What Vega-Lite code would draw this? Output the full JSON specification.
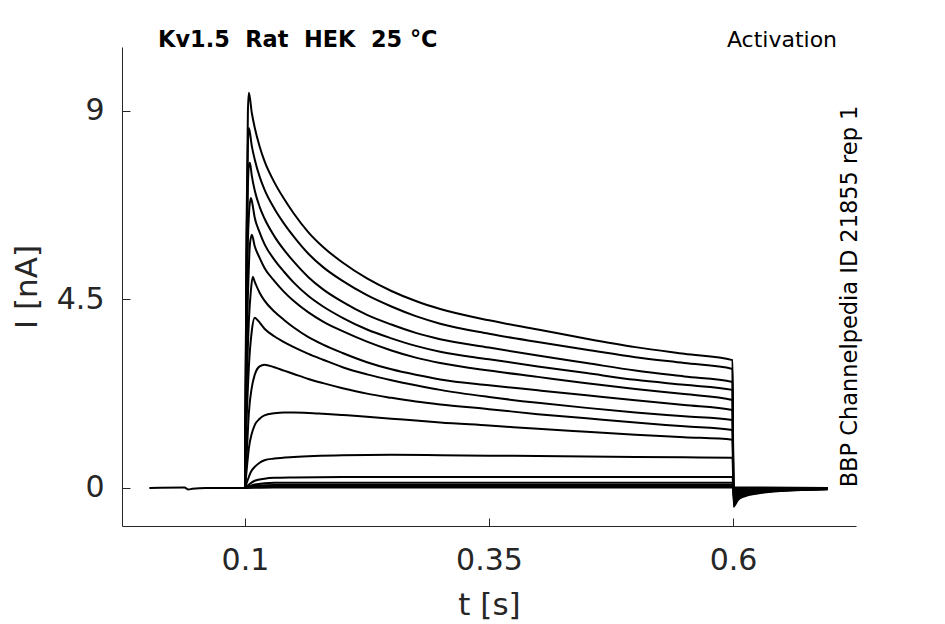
{
  "$schema": "https://vega.github.io/schema/vega-lite/v6.json",
  "width": 734,
  "height": 479,
  "autosize": "none",
  "padding": {"left": 122, "top": 47, "right": 89, "bottom": 98},
  "background": "white",
  "config": {"view": {"stroke": null}, "font": "DejaVu Sans"},
  "layer": [
    {
      "data": {"values": [
        {"k":1,"t":0.002,"i":0},{"k":1,"t":0.038,"i":0.01},{"k":1,"t":0.042,"i":-0.04},{"k":1,"t":0.046,"i":-0.02},{"k":1,"t":0.06,"i":0},{"k":1,"t":0.0995,"i":0},
        {"k":1,"t":0.1,"i":0},{"k":1,"t":0.1015,"i":6.0},{"k":1,"t":0.103,"i":9.0},{"k":1,"t":0.104,"i":9.43},{"k":1,"t":0.107,"i":8.95},{"k":1,"t":0.11,"i":8.6},{"k":1,"t":0.115,"i":8.15},{"k":1,"t":0.12,"i":7.8},{"k":1,"t":0.13,"i":7.3},{"k":1,"t":0.14,"i":6.9},{"k":1,"t":0.15,"i":6.55},{"k":1,"t":0.165,"i":6.1},{"k":1,"t":0.18,"i":5.75},{"k":1,"t":0.2,"i":5.38},{"k":1,"t":0.225,"i":5.0},{"k":1,"t":0.25,"i":4.7},{"k":1,"t":0.275,"i":4.46},{"k":1,"t":0.3,"i":4.27},{"k":1,"t":0.35,"i":4.0},{"k":1,"t":0.4,"i":3.78},{"k":1,"t":0.45,"i":3.56},{"k":1,"t":0.5,"i":3.36},{"k":1,"t":0.55,"i":3.2},{"k":1,"t":0.5995,"i":3.05},
        {"k":1,"t":0.6005,"i":-0.45},{"k":1,"t":0.605,"i":-0.29},{"k":1,"t":0.612,"i":-0.2},{"k":1,"t":0.625,"i":-0.135},{"k":1,"t":0.645,"i":-0.08},{"k":1,"t":0.67,"i":-0.05},{"k":1,"t":0.697,"i":-0.03},

        {"k":2,"t":0.1,"i":0},{"k":2,"t":0.1015,"i":5.5},{"k":2,"t":0.103,"i":8.2},{"k":2,"t":0.104,"i":8.59},{"k":2,"t":0.107,"i":8.16},{"k":2,"t":0.11,"i":7.84},{"k":2,"t":0.115,"i":7.43},{"k":2,"t":0.12,"i":7.12},{"k":2,"t":0.13,"i":6.67},{"k":2,"t":0.14,"i":6.31},{"k":2,"t":0.15,"i":6.0},{"k":2,"t":0.165,"i":5.59},{"k":2,"t":0.18,"i":5.27},{"k":2,"t":0.2,"i":4.94},{"k":2,"t":0.225,"i":4.6},{"k":2,"t":0.25,"i":4.33},{"k":2,"t":0.275,"i":4.1},{"k":2,"t":0.3,"i":3.92},{"k":2,"t":0.35,"i":3.68},{"k":2,"t":0.4,"i":3.48},{"k":2,"t":0.45,"i":3.3},{"k":2,"t":0.5,"i":3.12},{"k":2,"t":0.55,"i":2.98},{"k":2,"t":0.5995,"i":2.84},
        {"k":2,"t":0.6005,"i":-0.4},{"k":2,"t":0.605,"i":-0.26},{"k":2,"t":0.612,"i":-0.18},{"k":2,"t":0.625,"i":-0.12},{"k":2,"t":0.645,"i":-0.07},{"k":2,"t":0.67,"i":-0.045},{"k":2,"t":0.697,"i":-0.03},

        {"k":3,"t":0.1,"i":0},{"k":3,"t":0.1015,"i":4.8},{"k":3,"t":0.103,"i":7.2},{"k":3,"t":0.104,"i":7.7},{"k":3,"t":0.105,"i":7.76},{"k":3,"t":0.107,"i":7.45},{"k":3,"t":0.11,"i":7.1},{"k":3,"t":0.115,"i":6.71},{"k":3,"t":0.12,"i":6.43},{"k":3,"t":0.13,"i":6.01},{"k":3,"t":0.14,"i":5.68},{"k":3,"t":0.15,"i":5.4},{"k":3,"t":0.165,"i":5.03},{"k":3,"t":0.18,"i":4.74},{"k":3,"t":0.2,"i":4.44},{"k":3,"t":0.225,"i":4.13},{"k":3,"t":0.25,"i":3.9},{"k":3,"t":0.275,"i":3.7},{"k":3,"t":0.3,"i":3.55},{"k":3,"t":0.35,"i":3.35},{"k":3,"t":0.4,"i":3.16},{"k":3,"t":0.45,"i":2.98},{"k":3,"t":0.5,"i":2.8},{"k":3,"t":0.55,"i":2.66},{"k":3,"t":0.5995,"i":2.53},
        {"k":3,"t":0.6005,"i":-0.36},{"k":3,"t":0.605,"i":-0.23},{"k":3,"t":0.612,"i":-0.16},{"k":3,"t":0.625,"i":-0.11},{"k":3,"t":0.645,"i":-0.065},{"k":3,"t":0.67,"i":-0.04},{"k":3,"t":0.697,"i":-0.025},

        {"k":4,"t":0.1,"i":0},{"k":4,"t":0.1015,"i":3.9},{"k":4,"t":0.103,"i":5.9},{"k":4,"t":0.104,"i":6.5},{"k":4,"t":0.106,"i":6.92},{"k":4,"t":0.107,"i":6.85},{"k":4,"t":0.11,"i":6.45},{"k":4,"t":0.115,"i":6.1},{"k":4,"t":0.12,"i":5.82},{"k":4,"t":0.13,"i":5.45},{"k":4,"t":0.14,"i":5.16},{"k":4,"t":0.15,"i":4.9},{"k":4,"t":0.165,"i":4.58},{"k":4,"t":0.18,"i":4.33},{"k":4,"t":0.2,"i":4.06},{"k":4,"t":0.225,"i":3.78},{"k":4,"t":0.25,"i":3.57},{"k":4,"t":0.275,"i":3.39},{"k":4,"t":0.3,"i":3.25},{"k":4,"t":0.35,"i":3.07},{"k":4,"t":0.4,"i":2.9},{"k":4,"t":0.45,"i":2.74},{"k":4,"t":0.5,"i":2.58},{"k":4,"t":0.55,"i":2.46},{"k":4,"t":0.5995,"i":2.34},
        {"k":4,"t":0.6005,"i":-0.32},{"k":4,"t":0.605,"i":-0.21},{"k":4,"t":0.612,"i":-0.14},{"k":4,"t":0.625,"i":-0.1},{"k":4,"t":0.645,"i":-0.06},{"k":4,"t":0.67,"i":-0.035},{"k":4,"t":0.697,"i":-0.02},

        {"k":5,"t":0.1,"i":0},{"k":5,"t":0.1015,"i":3.0},{"k":5,"t":0.103,"i":4.6},{"k":5,"t":0.104,"i":5.3},{"k":5,"t":0.105,"i":5.8},{"k":5,"t":0.107,"i":6.04},{"k":5,"t":0.11,"i":5.77},{"k":5,"t":0.115,"i":5.49},{"k":5,"t":0.12,"i":5.25},{"k":5,"t":0.13,"i":4.94},{"k":5,"t":0.14,"i":4.68},{"k":5,"t":0.15,"i":4.46},{"k":5,"t":0.165,"i":4.19},{"k":5,"t":0.18,"i":3.97},{"k":5,"t":0.2,"i":3.74},{"k":5,"t":0.225,"i":3.49},{"k":5,"t":0.25,"i":3.28},{"k":5,"t":0.275,"i":3.11},{"k":5,"t":0.3,"i":2.98},{"k":5,"t":0.35,"i":2.8},{"k":5,"t":0.4,"i":2.65},{"k":5,"t":0.45,"i":2.5},{"k":5,"t":0.5,"i":2.36},{"k":5,"t":0.55,"i":2.24},{"k":5,"t":0.5995,"i":2.1},
        {"k":5,"t":0.6005,"i":-0.28},{"k":5,"t":0.605,"i":-0.18},{"k":5,"t":0.612,"i":-0.13},{"k":5,"t":0.625,"i":-0.085},{"k":5,"t":0.645,"i":-0.05},{"k":5,"t":0.67,"i":-0.03},{"k":5,"t":0.697,"i":-0.02},

        {"k":6,"t":0.1,"i":0},{"k":6,"t":0.1015,"i":2.2},{"k":6,"t":0.103,"i":3.4},{"k":6,"t":0.104,"i":4.0},{"k":6,"t":0.106,"i":4.7},{"k":6,"t":0.108,"i":5.04},{"k":6,"t":0.11,"i":4.92},{"k":6,"t":0.115,"i":4.66},{"k":6,"t":0.12,"i":4.47},{"k":6,"t":0.13,"i":4.21},{"k":6,"t":0.14,"i":4.01},{"k":6,"t":0.15,"i":3.83},{"k":6,"t":0.165,"i":3.6},{"k":6,"t":0.18,"i":3.42},{"k":6,"t":0.2,"i":3.22},{"k":6,"t":0.225,"i":3.0},{"k":6,"t":0.25,"i":2.83},{"k":6,"t":0.275,"i":2.7},{"k":6,"t":0.3,"i":2.59},{"k":6,"t":0.35,"i":2.45},{"k":6,"t":0.4,"i":2.33},{"k":6,"t":0.45,"i":2.21},{"k":6,"t":0.5,"i":2.09},{"k":6,"t":0.55,"i":1.98},{"k":6,"t":0.5995,"i":1.86},
        {"k":6,"t":0.6005,"i":-0.24},{"k":6,"t":0.605,"i":-0.16},{"k":6,"t":0.612,"i":-0.11},{"k":6,"t":0.625,"i":-0.07},{"k":6,"t":0.645,"i":-0.045},{"k":6,"t":0.67,"i":-0.026},{"k":6,"t":0.697,"i":-0.017},

        {"k":7,"t":0.1,"i":0},{"k":7,"t":0.1015,"i":1.5},{"k":7,"t":0.103,"i":2.4},{"k":7,"t":0.104,"i":2.9},{"k":7,"t":0.107,"i":3.75},{"k":7,"t":0.11,"i":4.06},{"k":7,"t":0.113,"i":4.0},{"k":7,"t":0.12,"i":3.8},{"k":7,"t":0.13,"i":3.62},{"k":7,"t":0.14,"i":3.48},{"k":7,"t":0.15,"i":3.36},{"k":7,"t":0.165,"i":3.2},{"k":7,"t":0.18,"i":3.06},{"k":7,"t":0.2,"i":2.88},{"k":7,"t":0.225,"i":2.71},{"k":7,"t":0.25,"i":2.57},{"k":7,"t":0.275,"i":2.45},{"k":7,"t":0.3,"i":2.34},{"k":7,"t":0.35,"i":2.17},{"k":7,"t":0.4,"i":2.03},{"k":7,"t":0.45,"i":1.91},{"k":7,"t":0.5,"i":1.8},{"k":7,"t":0.55,"i":1.71},{"k":7,"t":0.5995,"i":1.62},
        {"k":7,"t":0.6005,"i":-0.2},{"k":7,"t":0.605,"i":-0.13},{"k":7,"t":0.612,"i":-0.09},{"k":7,"t":0.625,"i":-0.06},{"k":7,"t":0.645,"i":-0.036},{"k":7,"t":0.67,"i":-0.022},{"k":7,"t":0.697,"i":-0.014},

        {"k":8,"t":0.1,"i":0},{"k":8,"t":0.102,"i":0.9},{"k":8,"t":0.104,"i":1.8},{"k":8,"t":0.107,"i":2.4},{"k":8,"t":0.11,"i":2.7},{"k":8,"t":0.115,"i":2.9},{"k":8,"t":0.12,"i":2.94},{"k":8,"t":0.13,"i":2.88},{"k":8,"t":0.14,"i":2.8},{"k":8,"t":0.15,"i":2.72},{"k":8,"t":0.165,"i":2.6},{"k":8,"t":0.18,"i":2.5},{"k":8,"t":0.2,"i":2.38},{"k":8,"t":0.225,"i":2.25},{"k":8,"t":0.25,"i":2.15},{"k":8,"t":0.275,"i":2.06},{"k":8,"t":0.3,"i":1.99},{"k":8,"t":0.35,"i":1.88},{"k":8,"t":0.4,"i":1.76},{"k":8,"t":0.45,"i":1.66},{"k":8,"t":0.5,"i":1.56},{"k":8,"t":0.55,"i":1.47},{"k":8,"t":0.5995,"i":1.38},
        {"k":8,"t":0.6005,"i":-0.17},{"k":8,"t":0.605,"i":-0.11},{"k":8,"t":0.612,"i":-0.077},{"k":8,"t":0.625,"i":-0.05},{"k":8,"t":0.645,"i":-0.03},{"k":8,"t":0.67,"i":-0.019},{"k":8,"t":0.697,"i":-0.012},

        {"k":9,"t":0.1,"i":0},{"k":9,"t":0.102,"i":0.5},{"k":9,"t":0.104,"i":0.95},{"k":9,"t":0.107,"i":1.3},{"k":9,"t":0.11,"i":1.5},{"k":9,"t":0.115,"i":1.65},{"k":9,"t":0.12,"i":1.73},{"k":9,"t":0.13,"i":1.78},{"k":9,"t":0.14,"i":1.8},{"k":9,"t":0.15,"i":1.8},{"k":9,"t":0.165,"i":1.79},{"k":9,"t":0.18,"i":1.77},{"k":9,"t":0.2,"i":1.74},{"k":9,"t":0.225,"i":1.7},{"k":9,"t":0.25,"i":1.65},{"k":9,"t":0.275,"i":1.61},{"k":9,"t":0.3,"i":1.56},{"k":9,"t":0.35,"i":1.49},{"k":9,"t":0.4,"i":1.41},{"k":9,"t":0.45,"i":1.34},{"k":9,"t":0.5,"i":1.27},{"k":9,"t":0.55,"i":1.21},{"k":9,"t":0.5995,"i":1.15},
        {"k":9,"t":0.6005,"i":-0.13},{"k":9,"t":0.605,"i":-0.085},{"k":9,"t":0.612,"i":-0.06},{"k":9,"t":0.625,"i":-0.04},{"k":9,"t":0.645,"i":-0.023},{"k":9,"t":0.67,"i":-0.014},{"k":9,"t":0.697,"i":-0.01},

        {"k":10,"t":0.1,"i":0},{"k":10,"t":0.103,"i":0.2},{"k":10,"t":0.106,"i":0.38},{"k":10,"t":0.11,"i":0.5},{"k":10,"t":0.115,"i":0.6},{"k":10,"t":0.12,"i":0.66},{"k":10,"t":0.13,"i":0.7},{"k":10,"t":0.15,"i":0.74},{"k":10,"t":0.2,"i":0.78},{"k":10,"t":0.25,"i":0.79},{"k":10,"t":0.3,"i":0.78},{"k":10,"t":0.35,"i":0.77},{"k":10,"t":0.4,"i":0.76},{"k":10,"t":0.45,"i":0.75},{"k":10,"t":0.5,"i":0.74},{"k":10,"t":0.55,"i":0.73},{"k":10,"t":0.5995,"i":0.72},
        {"k":10,"t":0.6005,"i":-0.09},{"k":10,"t":0.605,"i":-0.06},{"k":10,"t":0.612,"i":-0.04},{"k":10,"t":0.625,"i":-0.027},{"k":10,"t":0.645,"i":-0.016},{"k":10,"t":0.67,"i":-0.01},{"k":10,"t":0.697,"i":-0.006},

        {"k":11,"t":0.1,"i":0},{"k":11,"t":0.105,"i":0.1},{"k":11,"t":0.11,"i":0.17},{"k":11,"t":0.12,"i":0.22},{"k":11,"t":0.13,"i":0.24},{"k":11,"t":0.15,"i":0.25},{"k":11,"t":0.2,"i":0.26},{"k":11,"t":0.35,"i":0.26},{"k":11,"t":0.5995,"i":0.26},
        {"k":11,"t":0.6005,"i":-0.05},{"k":11,"t":0.605,"i":-0.033},{"k":11,"t":0.612,"i":-0.023},{"k":11,"t":0.625,"i":-0.015},{"k":11,"t":0.645,"i":-0.01},{"k":11,"t":0.697,"i":-0.004},

        {"k":12,"t":0.1,"i":0},{"k":12,"t":0.11,"i":0.08},{"k":12,"t":0.13,"i":0.12},{"k":12,"t":0.5995,"i":0.12},{"k":12,"t":0.6005,"i":-0.03},{"k":12,"t":0.63,"i":-0.006},{"k":12,"t":0.697,"i":0},
        {"k":13,"t":0.1,"i":0},{"k":13,"t":0.11,"i":0.05},{"k":13,"t":0.13,"i":0.07},{"k":13,"t":0.5995,"i":0.07},{"k":13,"t":0.6005,"i":-0.02},{"k":13,"t":0.63,"i":-0.004},{"k":13,"t":0.697,"i":0},
        {"k":14,"t":0.1,"i":0},{"k":14,"t":0.11,"i":0.025},{"k":14,"t":0.13,"i":0.035},{"k":14,"t":0.5995,"i":0.035},{"k":14,"t":0.6005,"i":-0.01},{"k":14,"t":0.63,"i":-0.002},{"k":14,"t":0.697,"i":0},
        {"k":15,"t":0.1,"i":0},{"k":15,"t":0.13,"i":0.01},{"k":15,"t":0.5995,"i":0.01},{"k":15,"t":0.697,"i":0}
      ]},
      "mark": {"type": "line", "color": "black", "strokeWidth": 2, "strokeJoin": "round", "interpolate": "monotone"},
      "encoding": {
        "x": {
          "field": "t", "type": "quantitative",
          "scale": {"domain": [-0.026, 0.726], "nice": false, "zero": false},
          "axis": {
            "values": [0.1, 0.35, 0.6], "format": ".3~g", "title": "t [s]", "grid": false,
            "tickSize": -8, "tickColor": "#262626", "domainColor": "#262626",
            "labelFontSize": 30, "labelColor": "#262626", "labelPadding": 27,
            "titleFontSize": 31, "titleColor": "#262626", "titleFontWeight": "normal", "titlePadding": 15
          }
        },
        "y": {
          "field": "i", "type": "quantitative",
          "scale": {"domain": [-0.91, 10.525], "nice": false, "zero": false},
          "axis": {
            "values": [0, 4.5, 9], "format": ".3~g", "title": "I [nA]", "grid": false,
            "tickSize": -8, "tickColor": "#262626", "domainColor": "#262626",
            "labelFontSize": 30, "labelColor": "#262626", "labelPadding": 26,
            "titleFontSize": 31, "titleColor": "#262626", "titleFontWeight": "normal", "titlePadding": 13
          }
        },
        "detail": {"field": "k", "type": "nominal"}
      }
    },
    {
      "data": {"values": [{"x": 0.011, "y": 10.52, "label": "Kv1.5\u00a0\u00a0Rat\u00a0\u00a0HEK\u00a0\u00a025 °C"}]},
      "mark": {"type": "text", "align": "left", "baseline": "alphabetic", "fontSize": 22.4, "fontWeight": "bold", "color": "black"},
      "encoding": {
        "x": {"field": "x", "type": "quantitative"},
        "y": {"field": "y", "type": "quantitative"},
        "text": {"field": "label"}
      }
    },
    {
      "data": {"values": [{"x": 0.7066, "y": 10.53, "label": "Activation"}]},
      "mark": {"type": "text", "align": "right", "baseline": "alphabetic", "fontSize": 22, "color": "black"},
      "encoding": {
        "x": {"field": "x", "type": "quantitative"},
        "y": {"field": "y", "type": "quantitative"},
        "text": {"field": "label"}
      }
    },
    {
      "data": {"values": [{"x": 0.727, "y": 4.57, "label": "BBP Channelpedia ID 21855 rep 1"}]},
      "mark": {"type": "text", "align": "center", "baseline": "alphabetic", "angle": 270, "fontSize": 22.5, "color": "black"},
      "encoding": {
        "x": {"field": "x", "type": "quantitative"},
        "y": {"field": "y", "type": "quantitative"},
        "text": {"field": "label"}
      }
    }
  ]
}
